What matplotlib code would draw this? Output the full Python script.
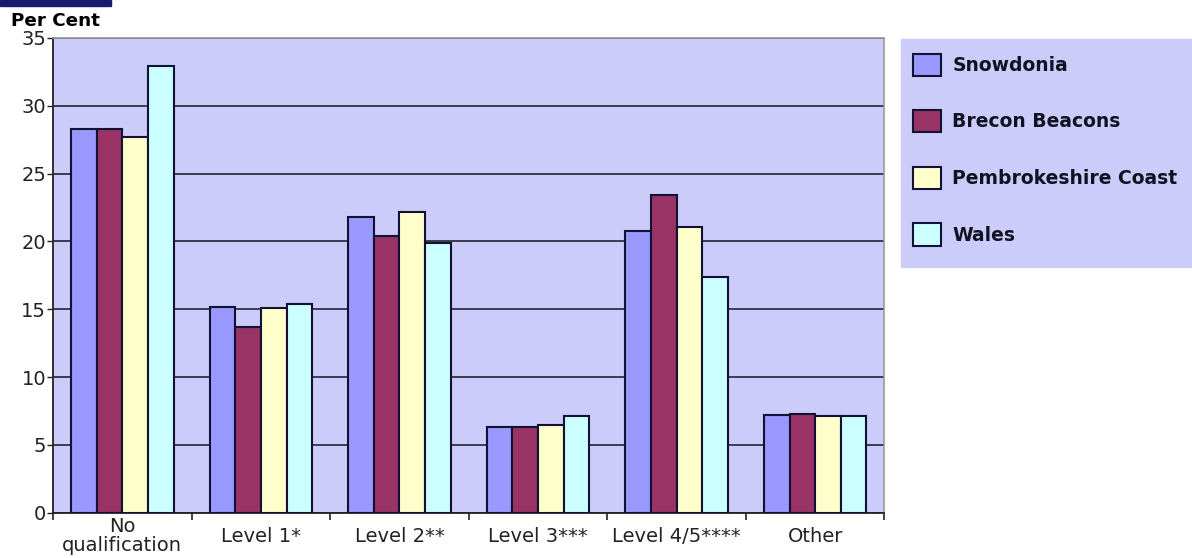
import matplotlib.pyplot as plt
import numpy as np
from matplotlib.patches import Rectangle

plt.rcParams['font.family'] = ['DejaVu Sans']

categories = ['No\nqualification', 'Level 1*', 'Level 2**', 'Level 3***',
              'Level 4/5****', 'Other']
series_names = ['Snowdonia', 'Brecon Beacons', 'Pembrokeshire Coast', 'Wales']
snowdonia = [28.3, 15.2, 21.8, 6.3, 20.8, 7.2]
brecon = [28.3, 13.7, 20.4, 6.3, 23.4, 7.3]
pembrokeshire = [27.7, 15.1, 22.2, 6.5, 21.1, 7.1]
wales = [32.9, 15.4, 19.9, 7.1, 17.4, 7.1]
colors = ['#9999FF', '#993366', '#FFFFCC', '#CCFFFF']

fig = plt.figure(figsize=(11.92, 5.58), dpi=100)
ax = fig.add_axes([0.0445, 0.081, 0.6975, 0.851])
ax.set_facecolor('#CCCCFA')

x = np.arange(len(categories))
width = 0.185
all_series = [snowdonia, brecon, pembrokeshire, wales]
handles = []
for i, (vals, col) in enumerate(zip(all_series, colors)):
    bars = ax.bar(x + (i - 1.5) * width, vals, width, color=col,
                  edgecolor='#111133', linewidth=1.5, zorder=3)
    handles.append(bars)

ax.set_ylim(0, 35)
ax.set_xlim(-0.5, len(categories) - 0.5)
ax.set_yticks(range(0, 36, 5))
ax.yaxis.grid(True, color='#222233', linewidth=1.2, zorder=0)
ax.set_axisbelow(True)

# category labels centred, tick marks between categories
ax.set_xticks(x)
ax.set_xticklabels(categories, fontsize=14, color='#222222', va='center',
                   linespacing=1.0)
ax.tick_params(axis='x', length=0, pad=17)
ax.set_xticks(np.arange(-0.5, len(categories)), minor=True)
ax.tick_params(axis='x', which='minor', length=5, width=1.2, color='#222222')
ax.tick_params(axis='y', length=4, width=1, labelsize=14, colors='#222222', pad=1)

for side in ['top', 'right']:
    ax.spines[side].set_color('#999999')
    ax.spines[side].set_linewidth(1.2)
for side in ['left', 'bottom']:
    ax.spines[side].set_color('#222222')
    ax.spines[side].set_linewidth(1.3)

fig.text(0.009, 0.963, 'Per Cent', fontsize=13.2, fontweight='bold',
         ha='left', va='center')

# dark header bar at top left
fig.patches.append(Rectangle((0, 0.99), 0.093, 0.012, transform=fig.transFigure,
                             color='#1A1A6E', zorder=5))

# legend panel
fig.patches.append(Rectangle((0.756, 0.521), 0.25, 0.409, transform=fig.transFigure,
                             color='#CCCCFA', zorder=0))
leg = fig.legend(handles, series_names, loc='upper left',
                 bbox_to_anchor=(0.766, 0.904), frameon=False, borderpad=0,
                 borderaxespad=0,
                 prop={'size': 13.5, 'weight': 'bold'},
                 handlelength=1.5, handleheight=1.45, labelspacing=1.83,
                 handletextpad=0.6)
for t in leg.get_texts():
    t.set_color('#111122')

fig.savefig('out.png', dpi=100)
